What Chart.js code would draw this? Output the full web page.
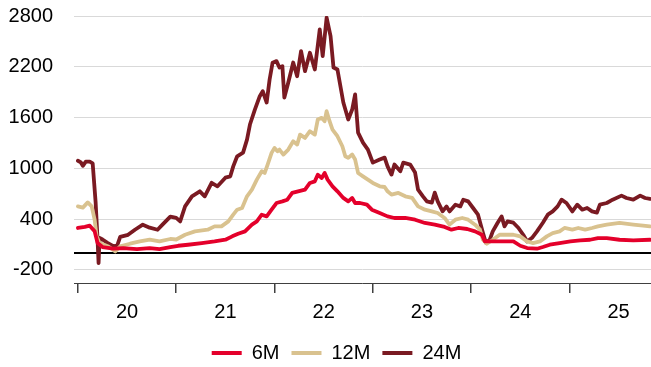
<!DOCTYPE html>
<html>
<head>
<meta charset="utf-8">
<script src="https://cdn.jsdelivr.net/npm/chart.js@4/dist/chart.umd.min.js"></script>
<style>
html,body{margin:0;padding:0;background:#fff;}
#wrap{width:651px;height:367px;}
</style>
</head>
<body>
<div id="wrap"><canvas id="c" width="651" height="367"></canvas></div>
<script>
// ---- data (decimal year, value) ----
const seriesNames = ['6M', '12M', '24M'];

const years6M = [2020.00,2020.07,2020.12,2020.17,2020.20,2020.25,2020.36,2020.46,2020.60,2020.73,2020.83,2020.94,2021.02,2021.12,2021.26,2021.39,2021.50,2021.57,2021.63,2021.70,2021.77,2021.82,2021.87,2021.92,2021.97,2022.02,2022.08,2022.13,2022.18,2022.24,2022.31,2022.36,2022.41,2022.44,2022.48,2022.51,2022.54,2022.59,2022.64,2022.70,2022.75,2022.79,2022.82,2022.87,2022.94,2022.99,2023.07,2023.15,2023.22,2023.33,2023.43,2023.53,2023.63,2023.73,2023.80,2023.87,2023.96,2024.04,2024.11,2024.14,2024.21,2024.32,2024.43,2024.50,2024.57,2024.67,2024.73,2024.80,2024.90,2025.01,2025.11,2025.21,2025.29,2025.38,2025.51,2025.65,2025.82];
const values6M = [296,308,323,256,118,71,51,59,47,59,47,71,86,98,118,137,157,197,228,256,335,374,453,433,512,591,610,630,710,729,749,828,847,926,887,946,867,788,729,651,610,651,591,591,571,512,473,433,414,414,394,355,335,308,276,296,284,256,216,137,137,137,137,86,59,51,71,98,118,137,149,157,177,177,157,149,157];

const years12M = [2020.00,2020.05,2020.10,2020.14,2020.17,2020.19,2020.22,2020.31,2020.38,2020.43,2020.53,2020.63,2020.73,2020.83,2020.94,2021.00,2021.09,2021.19,2021.32,2021.39,2021.46,2021.53,2021.58,2021.62,2021.67,2021.72,2021.77,2021.82,2021.87,2021.90,2021.93,2021.97,2022.00,2022.03,2022.05,2022.09,2022.14,2022.19,2022.23,2022.26,2022.31,2022.36,2022.41,2022.44,2022.48,2022.51,2022.53,2022.56,2022.59,2022.64,2022.69,2022.72,2022.75,2022.79,2022.82,2022.85,2022.90,2022.95,2023.00,2023.07,2023.12,2023.15,2023.19,2023.26,2023.33,2023.40,2023.46,2023.53,2023.60,2023.66,2023.73,2023.78,2023.84,2023.91,2023.97,2024.04,2024.09,2024.12,2024.16,2024.22,2024.29,2024.36,2024.43,2024.50,2024.57,2024.63,2024.70,2024.77,2024.83,2024.90,2024.95,2025.03,2025.09,2025.16,2025.23,2025.29,2025.38,2025.51,2025.65,2025.75,2025.82];
const values12M = [551,536,598,551,394,197,118,78,19,78,110,137,157,137,166,160,216,256,276,315,315,374,453,512,532,670,749,867,966,946,1045,1183,1242,1202,1222,1163,1222,1320,1281,1399,1360,1439,1399,1577,1597,1557,1675,1557,1459,1380,1261,1143,1124,1163,1104,946,906,867,828,788,780,729,690,710,670,651,551,512,492,473,414,335,394,414,394,335,276,157,110,157,216,216,216,197,137,118,137,197,236,256,296,276,296,276,296,315,335,355,335,323,315];

const years24M = [2020.00,2020.03,2020.05,2020.08,2020.12,2020.15,2020.18,2020.20,2020.21,2020.22,2020.25,2020.30,2020.36,2020.40,2020.43,2020.51,2020.58,2020.66,2020.73,2020.81,2020.86,2020.94,2021.00,2021.04,2021.09,2021.16,2021.24,2021.29,2021.36,2021.42,2021.50,2021.55,2021.58,2021.62,2021.68,2021.72,2021.75,2021.80,2021.85,2021.88,2021.92,2021.95,2021.98,2022.02,2022.05,2022.08,2022.10,2022.14,2022.19,2022.23,2022.27,2022.31,2022.36,2022.41,2022.46,2022.49,2022.53,2022.57,2022.60,2022.64,2022.70,2022.75,2022.79,2022.82,2022.85,2022.90,2022.95,2023.00,2023.07,2023.12,2023.15,2023.19,2023.22,2023.28,2023.31,2023.38,2023.43,2023.46,2023.51,2023.55,2023.60,2023.63,2023.66,2023.71,2023.75,2023.78,2023.84,2023.89,2023.92,2023.97,2024.02,2024.07,2024.12,2024.15,2024.19,2024.22,2024.27,2024.31,2024.34,2024.37,2024.43,2024.48,2024.53,2024.57,2024.62,2024.67,2024.73,2024.78,2024.83,2024.88,2024.92,2024.97,2025.03,2025.08,2025.13,2025.18,2025.23,2025.28,2025.31,2025.38,2025.44,2025.53,2025.58,2025.65,2025.72,2025.77,2025.82];
const values24M = [1090,1070,1030,1080,1080,1060,600,150,-120,180,160,120,80,90,190,215,275,335,300,275,335,430,415,374,551,670,729,670,830,788,890,906,1024,1143,1186,1340,1518,1695,1853,1912,1778,2050,2248,2267,2192,2208,1837,2014,2251,2089,2385,2148,2366,2168,2642,2326,2780,2562,2192,2168,1778,1577,1695,1873,1423,1305,1222,1068,1104,1127,1024,926,1045,966,1068,1045,950,749,670,610,595,713,610,492,551,492,571,551,630,610,532,453,240,122,157,256,358,433,315,374,358,299,216,137,180,256,358,453,492,551,630,591,492,571,512,532,492,477,571,591,630,678,650,630,678,650,639];

// ---- axes ----
const yTickValues = [-200, 400, 1000, 1600, 2200, 2800];
const baselineValue = 0;
const yearStarts = [2020, 2021, 2022, 2023, 2024, 2025];
const yearLabels = ['20', '21', '22', '23', '24', '25'];

const colors = ['#E4002B', '#D9C28F', '#7A1A22'];

function toPoints(xs, ys) { return xs.map((x, i) => ({ x: x, y: ys[i] })); }

const seriesYears = [years6M, years12M, years24M];
const seriesValues = [values6M, values12M, values24M];

const datasets = seriesNames.map((name, i) => ({
  label: name,
  data: toPoints(seriesYears[i], seriesValues[i]),
  borderColor: colors[i],
  backgroundColor: colors[i],
  borderWidth: 3.8,
  pointRadius: 0,
  tension: 0,
  fill: false,
  borderJoinStyle: 'round',
  borderCapStyle: 'round'
}));

const FONT = "'Liberation Sans', Arial, Helvetica, sans-serif";

const xTickValues = [];
yearStarts.forEach(y => { xTickValues.push(y); xTickValues.push(y + 0.5); });

new Chart(document.getElementById('c'), {
  type: 'line',
  data: { datasets: datasets },
  options: {
    responsive: false,
    animation: false,
    devicePixelRatio: 1,
    layout: { padding: { left: 8, right: -14, top: 16, bottom: -6 } },
    plugins: {
      tooltip: { enabled: false },
      legend: {
        position: 'bottom',
        labels: {
          boxWidth: 30,
          boxHeight: 4,
          padding: 12,
          color: '#000',
          font: { family: FONT, size: 20 },
          generateLabels: (chart) => {
            const items = Chart.defaults.plugins.legend.labels.generateLabels(chart);
            items.forEach(it => { it.lineWidth = 0; });
            return items;
          }
        }
      }
    },
    scales: {
      x: {
        type: 'linear',
        min: 2019.96,
        max: 2025.83,
        afterBuildTicks: (scale) => { scale.ticks = xTickValues.map(v => ({ value: v })); },
        afterFit: (scale) => { scale.height = 48; },
        ticks: {
          autoSkip: false,
          maxRotation: 0,
          padding: 7,
          color: '#000',
          font: { family: FONT, size: 20 },
          callback: (v) => {
            const idx = yearStarts.indexOf(Math.floor(v));
            return (Math.abs(v - Math.floor(v) - 0.5) < 1e-6 && idx >= 0) ? yearLabels[idx] : '';
          }
        },
        grid: {
          drawOnChartArea: false,
          drawTicks: true,
          tickLength: 10,
          lineWidth: 1.5,
          color: (ctx) => (ctx.tick && Number.isInteger(ctx.tick.value)) ? '#404040' : 'rgba(0,0,0,0)'
        },
        border: { display: true, color: '#404040', width: 1 }
      },
      y: {
        type: 'linear',
        min: -354,
        max: 2800,
        afterBuildTicks: (scale) => {
          const vals = yTickValues.concat([baselineValue]).sort((a, b) => a - b);
          scale.ticks = vals.map(v => ({ value: v }));
        },
        afterFit: (scale) => { scale.width = 66; scale.paddingTop = 0; scale.paddingBottom = 0; },
        ticks: {
          padding: 21,
          color: '#000',
          font: { family: FONT, size: 20 },
          callback: (v) => (v === baselineValue ? '' : String(v))
        },
        grid: {
          drawTicks: false,
          color: (ctx) => (ctx.tick && ctx.tick.value === baselineValue) ? '#000' : '#D9D9D9',
          lineWidth: (ctx) => (ctx.tick && ctx.tick.value === baselineValue) ? 2 : 1
        },
        border: { display: false }
      }
    }
  }
});
</script>
</body>
</html>
